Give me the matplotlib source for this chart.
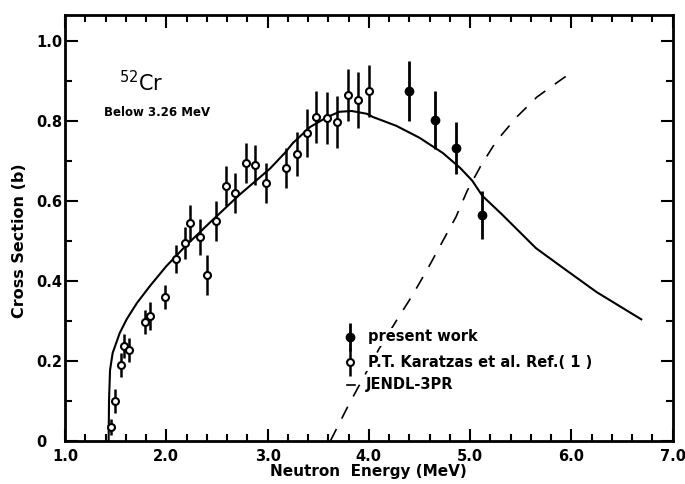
import matplotlib.pyplot as plt
from matplotlib.ticker import MultipleLocator, FixedLocator

# present work (filled points)
present_e = [4.40, 4.65, 4.86, 5.12]
present_xs = [0.875, 0.803, 0.733, 0.564]
present_err = [0.075, 0.072, 0.065, 0.060]

# P.T. Karatzas et al. (open points)
kar_e = [1.454, 1.49, 1.55, 1.58, 1.63, 1.79, 1.84, 1.99, 2.095, 2.18, 2.23, 2.33, 2.40,
         2.49, 2.59, 2.68, 2.79, 2.88, 2.98, 3.18, 3.29, 3.39, 3.48, 3.59, 3.69, 3.79,
         3.89, 4.00]
kar_xs = [0.035, 0.10, 0.19, 0.237, 0.227, 0.297, 0.312, 0.36, 0.456, 0.496, 0.544, 0.509,
          0.416, 0.549, 0.638, 0.621, 0.696, 0.69, 0.644, 0.683, 0.718, 0.771, 0.81, 0.808,
          0.798, 0.865, 0.853, 0.875]
kar_err = [0.02, 0.03, 0.03, 0.03, 0.03, 0.03, 0.035, 0.03, 0.035, 0.04, 0.045, 0.045, 0.05,
           0.05, 0.05, 0.05, 0.05, 0.05, 0.05, 0.05, 0.055, 0.06, 0.065, 0.065, 0.065, 0.065,
           0.07, 0.065]

# solid curve
curve_e = [1.43, 1.434, 1.444, 1.47, 1.54, 1.61, 1.71, 1.84, 2.00, 2.20, 2.43, 2.72, 3.02,
           3.17, 3.25, 3.42, 3.59, 3.71, 3.83, 3.98, 4.04, 4.27, 4.50, 4.73, 4.90, 5.02,
           5.12, 5.32, 5.65, 5.91, 6.25, 6.69]
curve_xs = [0.0, 0.10, 0.177, 0.22, 0.27, 0.305, 0.345, 0.388, 0.437, 0.49, 0.546, 0.615,
            0.68, 0.72, 0.745, 0.785, 0.81, 0.823, 0.825, 0.818, 0.81, 0.788, 0.758, 0.72,
            0.683, 0.651, 0.613, 0.565, 0.482, 0.434, 0.372, 0.304]

# JENDL-3PR dashed curve
jendl_e = [3.62, 3.70, 3.80, 3.95, 4.10, 4.27, 4.42, 4.58, 4.73, 4.86, 4.97, 5.11, 5.26,
           5.46, 5.66, 5.88, 6.02]
jendl_xs = [0.0, 0.04, 0.09, 0.16, 0.23, 0.30, 0.36, 0.43, 0.50, 0.56, 0.625, 0.69, 0.75,
            0.81, 0.86, 0.90, 0.925]

xticks = [1.0, 2.0, 3.0, 4.0, 5.0, 6.0, 7.0]
yticks = [0, 0.2, 0.4, 0.6, 0.8, 1.0]

plt.rcParams['font.family'] = 'DejaVu Sans'
fig = plt.figure(figsize=(6.85, 4.84), dpi=100)
ax = fig.add_axes([0.095, 0.089, 0.887, 0.880])

ax.plot(curve_e, curve_xs, color='black', lw=1.5)
ax.plot(jendl_e, jendl_xs, color='black', lw=1.2, dashes=(8, 7), zorder=1)
ax.errorbar(kar_e, kar_xs, yerr=kar_err, fmt='o', ms=5, mfc='white', mec='black',
            mew=1.5, ecolor='black', elinewidth=1.8, capsize=0, zorder=3)
ax.errorbar(present_e, present_xs, yerr=present_err, fmt='o', ms=6, mfc='black',
            mec='black', ecolor='black', elinewidth=2, capsize=0, zorder=3)

# legend drawn by hand
ax.errorbar([3.81], [0.26], yerr=[0.035], fmt='o', ms=6, mfc='black', mec='black',
            ecolor='black', elinewidth=2, capsize=0)
ax.errorbar([3.81], [0.197], yerr=[0.035], fmt='o', ms=5, mfc='white', mec='black',
            mew=1.5, ecolor='black', elinewidth=1.8, capsize=0)
ax.plot([3.78, 3.86], [0.14, 0.14], color='black', lw=1.2)
kw = dict(fontsize=10.5, fontweight='bold', va='center', zorder=4,
          bbox=dict(facecolor='white', edgecolor='none', pad=1))
ax.text(3.99, 0.26, 'present work', **kw)
ax.text(3.99, 0.197, 'P.T. Karatzas et al. Ref.( 1 )', **kw)
ax.text(3.97, 0.14, 'JENDL-3PR', **kw)

ax.text(1.53, 0.895, r'$^{52}$Cr', fontsize=15, va='center')
ax.text(1.38, 0.82, 'Below 3.26 MeV', fontsize=8.5, fontweight='bold', va='center')

ax.set_xlim(1.0, 7.0)
ax.set_ylim(0, 1.065)
ax.xaxis.set_major_locator(FixedLocator(xticks))
ax.xaxis.set_minor_locator(MultipleLocator(0.2))
ax.yaxis.set_major_locator(FixedLocator(yticks))
ax.yaxis.set_minor_locator(MultipleLocator(0.1))
ax.set_xticklabels(['%.1f' % t for t in xticks])
ax.set_yticklabels(['0', '0.2', '0.4', '0.6', '0.8', '1.0'])
ax.tick_params(which='both', direction='in', top=True, right=True, width=1.5,
               labelsize=10.5)
ax.tick_params(which='major', length=9)
ax.tick_params(which='minor', length=5)
ax.tick_params(axis='x', pad=6)
ax.tick_params(axis='y', pad=21)
for lab in ax.get_yticklabels():
    lab.set_horizontalalignment('left')
for lab in ax.get_xticklabels() + ax.get_yticklabels():
    lab.set_fontweight('bold')
for s in ax.spines.values():
    s.set_linewidth(2)

ax.set_xlabel('Neutron  Energy (MeV)', fontsize=11, fontweight='bold')
ax.set_ylabel('Cross Section (b)', fontsize=11.5, fontweight='bold')
ax.xaxis.set_label_coords(0.5, -0.055)
ax.yaxis.set_label_coords(-0.0625, 0.47)

plt.savefig('out.png', dpi=100)
